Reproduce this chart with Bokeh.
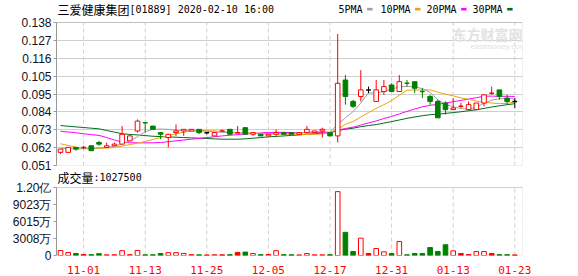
from bokeh.plotting import figure
from bokeh.layouts import column
from bokeh.models import ColumnDataSource, FixedTicker, Label, Range1d, Grid, BoxAnnotation
from bokeh.embed import file_html
from bokeh.resources import INLINE

# ---------------- data ----------------
dates = ["2019-10-29", "2019-10-30", "2019-10-31", "2019-11-01", "2019-11-04", "2019-11-05",
         "2019-11-06", "2019-11-07", "2019-11-08", "2019-11-11", "2019-11-12", "2019-11-13",
         "2019-11-14", "2019-11-15", "2019-11-18", "2019-11-19", "2019-11-20", "2019-11-21",
         "2019-11-22", "2019-11-25", "2019-11-26", "2019-11-27", "2019-11-28", "2019-11-29",
         "2019-12-02", "2019-12-03", "2019-12-04", "2019-12-05", "2019-12-06", "2019-12-09",
         "2019-12-10", "2019-12-11", "2019-12-12", "2019-12-13", "2019-12-16", "2019-12-17",
         "2019-12-18", "2019-12-19", "2019-12-20", "2019-12-23", "2019-12-24", "2019-12-27",
         "2019-12-30", "2019-12-31", "2020-01-02", "2020-01-03", "2020-01-06", "2020-01-07",
         "2020-01-08", "2020-01-09", "2020-01-10", "2020-01-13", "2020-01-14", "2020-01-15",
         "2020-01-16", "2020-01-17", "2020-01-20", "2020-01-21", "2020-01-22", "2020-01-23"]

opens = [0.059, 0.059, 0.062, 0.062, 0.063, 0.065, 0.062, 0.063, 0.064, 0.066,
         0.072, 0.077, 0.075, 0.071, 0.068, 0.071, 0.072, 0.072, 0.073, 0.071,
         0.069, 0.072, 0.073, 0.071, 0.074, 0.070, 0.070, 0.069, 0.070, 0.071,
         0.071, 0.070, 0.071, 0.071, 0.072, 0.071, 0.069, 0.103, 0.090, 0.093,
         0.097, 0.090, 0.096, 0.100, 0.096, 0.101, 0.102, 0.096, 0.093, 0.090,
         0.089, 0.085, 0.087, 0.085, 0.085, 0.089, 0.095, 0.097, 0.092, 0.090]
highs = [0.061, 0.062, 0.062, 0.063, 0.063, 0.066, 0.065, 0.065, 0.075, 0.070,
         0.079, 0.077, 0.075, 0.071, 0.070, 0.076, 0.073, 0.073, 0.073, 0.071,
         0.071, 0.073, 0.073, 0.075, 0.074, 0.071, 0.070, 0.070, 0.073, 0.071,
         0.071, 0.071, 0.075, 0.072, 0.074, 0.071, 0.131, 0.106, 0.091, 0.109,
         0.099, 0.103, 0.103, 0.101, 0.106, 0.103, 0.102, 0.098, 0.094, 0.091,
         0.090, 0.092, 0.089, 0.090, 0.089, 0.094, 0.099, 0.097, 0.094, 0.092]
lows = [0.058, 0.059, 0.060, 0.061, 0.060, 0.063, 0.062, 0.063, 0.064, 0.066,
        0.071, 0.071, 0.073, 0.067, 0.062, 0.069, 0.069, 0.072, 0.070, 0.070,
        0.069, 0.072, 0.070, 0.071, 0.070, 0.069, 0.069, 0.069, 0.069, 0.070,
        0.070, 0.070, 0.071, 0.071, 0.068, 0.069, 0.065, 0.088, 0.086, 0.090,
        0.095, 0.090, 0.094, 0.096, 0.096, 0.099, 0.095, 0.092, 0.088, 0.080,
        0.082, 0.085, 0.086, 0.085, 0.085, 0.087, 0.094, 0.091, 0.088, 0.086]
closes = [0.061, 0.062, 0.061, 0.062, 0.060, 0.064, 0.063, 0.064, 0.070, 0.069,
          0.078, 0.077, 0.073, 0.070, 0.070, 0.072, 0.073, 0.073, 0.071, 0.071,
          0.071, 0.072, 0.070, 0.071, 0.070, 0.071, 0.069, 0.070, 0.071, 0.070,
          0.070, 0.071, 0.073, 0.072, 0.073, 0.069, 0.101, 0.093, 0.087, 0.097,
          0.097, 0.097, 0.099, 0.096, 0.102, 0.101, 0.098, 0.096, 0.090, 0.080,
          0.085, 0.086, 0.087, 0.088, 0.089, 0.094, 0.095, 0.093, 0.090, 0.090]
volumes = [8800000, 5300000, 3500000, 1800000, 1500000, 3200000, 1200000, 1400000, 8500000, 1500000,
           9000000, 1200000, 1300000, 3500000, 5000000, 5000000, 3600000, 1500000, 1200000, 1000000,
           1300000, 1200000, 1500000, 5500000, 6000000, 3500000, 1500000, 1800000, 8500000, 1500000,
           1300000, 1000000, 3500000, 1200000, 1200000, 1500000, 113000000, 41000000, 7000000, 30700000,
           3500000, 12400000, 6500000, 3500000, 24800000, 1200000, 3500000, 3500000, 14000000, 7000000,
           19000000, 8300000, 3500000, 1800000, 7000000, 7000000, 3500000, 1500000, 1500000, 1027500]

ma5 = [0.0615, 0.0612, 0.0610, 0.0612, 0.0612, 0.0618, 0.0620, 0.0626, 0.0642, 0.0660,
       0.0685, 0.0715, 0.0730, 0.0732, 0.0730, 0.0725, 0.0722, 0.0720, 0.0720, 0.0718,
       0.0714, 0.0712, 0.0710, 0.0708, 0.0706, 0.0705, 0.0703, 0.0702, 0.0702, 0.0703,
       0.0705, 0.0710, 0.0712, 0.0714, 0.0716, 0.0712, 0.0760, 0.0800, 0.0838, 0.0890,
       0.0952, 0.0950, 0.0960, 0.0975, 0.0988, 0.0992, 0.0988, 0.0978, 0.0955, 0.0910,
       0.0882, 0.0868, 0.0856, 0.0854, 0.0865, 0.0888, 0.0908, 0.0916, 0.0918, 0.0914]
ma10 = [0.0642, 0.0632, 0.0622, 0.0614, 0.0612, 0.0614, 0.0616, 0.0620, 0.0628, 0.0637,
        0.0646, 0.0656, 0.0668, 0.0680, 0.0692, 0.0703, 0.0712, 0.0720, 0.0723, 0.0722,
        0.0720, 0.0718, 0.0712, 0.0709, 0.0708, 0.0707, 0.0705, 0.0703, 0.0703, 0.0702,
        0.0700, 0.0699, 0.0699, 0.0700, 0.0702, 0.0710, 0.0730, 0.0760, 0.0778, 0.0805,
        0.0832, 0.0858, 0.0880, 0.0905, 0.0938, 0.0968, 0.0970, 0.0970, 0.0970, 0.0956,
        0.0944, 0.0934, 0.0921, 0.0913, 0.0902, 0.0895, 0.0890, 0.0887, 0.0888, 0.0897]
ma20 = [0.0718, 0.0714, 0.0709, 0.0703, 0.0698, 0.0693, 0.0680, 0.0665, 0.0652, 0.0648,
        0.0648, 0.0648, 0.0648, 0.0650, 0.0655, 0.0660, 0.0665, 0.0670, 0.0675, 0.0680,
        0.0685, 0.0690, 0.0694, 0.0698, 0.0702, 0.0705, 0.0708, 0.0711, 0.0712, 0.0712,
        0.0710, 0.0709, 0.0709, 0.0710, 0.0711, 0.0711, 0.0725, 0.0735, 0.0743, 0.0756,
        0.0769, 0.0781, 0.0796, 0.0808, 0.0824, 0.0839, 0.0854, 0.0867, 0.0876, 0.0882,
        0.0890, 0.0898, 0.0906, 0.0914, 0.0922, 0.0932, 0.0932, 0.0931, 0.0931, 0.0930]
ma30 = [0.0753, 0.0749, 0.0745, 0.0741, 0.0737, 0.0733, 0.0723, 0.0713, 0.0703, 0.0699,
        0.0696, 0.0692, 0.0688, 0.0686, 0.0684, 0.0682, 0.0680, 0.0678, 0.0676, 0.0674,
        0.0672, 0.0670, 0.0670, 0.0670, 0.0672, 0.0676, 0.0680, 0.0684, 0.0687, 0.0690,
        0.0693, 0.0696, 0.0700, 0.0703, 0.0707, 0.0709, 0.0722, 0.0731, 0.0737, 0.0746,
        0.0753, 0.0759, 0.0768, 0.0777, 0.0787, 0.0797, 0.0805, 0.0813, 0.0819, 0.0822,
        0.0827, 0.0832, 0.0837, 0.0843, 0.0849, 0.0857, 0.0866, 0.0873, 0.0880, 0.0886]

price_tick_labels = ["0.051", "0.062", "0.073", "0.084", "0.095", "0.105", "0.116", "0.127", "0.138"]
price_lo, price_hi = 0.051, 0.138
vol_tick_labels = ["0", "3008万", "6015万", "9023万", "1.20亿"]
vol_max = 120300000
tick_dates = ["2019-11-01", "2019-11-13", "2019-11-25", "2019-12-05",
              "2019-12-17", "2019-12-31", "2020-01-13", "2020-01-23"]
stock_title = "三爱健康集团"
stock_info = "[01889] 2020-02-10 16:00"
ma_names = ["5PMA", "10PMA", "20PMA", "30PMA"]

# ---------------- styles / layout ----------------
RED, GREEN, BLACK = "#ff0000", "#008000", "#000000"
MA_COLORS = ["#a0a0a0", "#f0a30a", "#ff00ff", "#006b1e"]
GRID = "#cfcfcf"
FRAME = "#9a9a9a"
MONO = "DejaVu Sans Mono"
CJK = "Noto Sans CJK SC"
TICKF = "Liberation Sans"

W = 578
P_TOP_PAD, P_BOX, P_BOTTOM = 22, 143, 7      # price panel: header strip, chart box, bottom border
OVERLAP = 12                                  # volume panel starts this far above the price panel end
V_TOP_PAD, V_BOX, V_BOTTOM = 15 + OVERLAP, 68, 21

n = len(dates)
xs = list(range(n))
half = 0.3

wick = dict(x=[], lo=[], hi=[], c=[])
body = dict(l=[], r=[], t=[], b=[], fill=[], line=[])
flat = dict(x0=[], x1=[], y=[], c=[])
vol = dict(l=[], r=[], t=[], fill=[], line=[])

for i in range(n):
    o, h, lo, c = opens[i], highs[i], lows[i], closes[i]
    prev = closes[i - 1] if i > 0 else o
    if c > o:
        col, fill, vfill = RED, "white", "white"
    elif c < o:
        col, fill, vfill = GREEN, GREEN, GREEN
    else:
        col = RED if c > prev else (GREEN if c < prev else BLACK)
        fill = None
        vfill = GREEN if c < prev else RED
    vcol = GREEN if vfill == GREEN else RED
    wick["x"].append(i); wick["lo"].append(lo); wick["hi"].append(h); wick["c"].append(col)
    if fill is None:
        flat["x0"].append(i - half); flat["x1"].append(i + half); flat["y"].append(c); flat["c"].append(col)
    else:
        body["l"].append(i - half); body["r"].append(i + half)
        body["t"].append(max(o, c)); body["b"].append(min(o, c))
        body["fill"].append(fill); body["line"].append(col)
    vol["l"].append(i - half); vol["r"].append(i + half); vol["t"].append(volumes[i])
    vol["fill"].append(vfill); vol["line"].append(vcol)

tick_idx = [dates.index(d) for d in tick_dates]
k = len(price_tick_labels) - 1
price_pos = [round(price_lo + (price_hi - price_lo) * j / k, 7) for j in range(k + 1)]
kv = len(vol_tick_labels) - 1
vol_pos = [vol_max * j / kv for j in range(kv + 1)]

x_range = Range1d(-0.52, 60.0)
price_top = price_hi + (price_hi - price_lo) * P_TOP_PAD / P_BOX
vol_top = vol_max * (V_BOX + V_TOP_PAD) / V_BOX


def style_yaxis(ax, ticks, labels, bounds):
    ax.ticker = FixedTicker(ticks=ticks)
    ax.major_label_overrides = {pv: lab for pv, lab in zip(ticks, labels)}
    ax.bounds = bounds
    ax.axis_line_color = FRAME
    ax.major_tick_line_color = FRAME
    ax.major_tick_out = 3
    ax.major_tick_in = 0
    ax.minor_tick_line_color = None
    ax.major_label_standoff = 2
    ax.major_label_text_font = TICKF
    ax.major_label_text_font_size = "12px"
    ax.major_label_text_line_height = 1.0
    ax.major_label_text_color = "#111122"


def txt(fig, x, y, text, font, size, color="#000000", **kw):
    fig.add_layout(Label(x=x, y=y, x_units="screen", y_units="screen", text=text,
                         text_font=font, text_font_size=size, text_baseline="middle",
                         text_line_height=1.0, text_color=color, **kw))


# ---------------- price panel ----------------
p1 = figure(width=W, height=P_TOP_PAD + P_BOX + P_BOTTOM, x_range=x_range,
            y_range=Range1d(price_lo, price_top),
            output_backend="svg", toolbar_location=None, x_axis_location=None,
            min_border_left=56, min_border_right=56, min_border_top=0, min_border_bottom=P_BOTTOM,
            outline_line_color=None, background_fill_color="white", border_fill_color="white")
p1.xgrid.visible = False
p1.ygrid.visible = False
p1.add_layout(Grid(dimension=1, ticker=FixedTicker(ticks=price_pos), grid_line_color=GRID))
p1.segment(x0=tick_idx, y0=[price_lo] * len(tick_idx), x1=tick_idx, y1=[price_hi] * len(tick_idx),
           line_color=GRID, line_dash="4 3", line_width=1)
p1.add_layout(BoxAnnotation(bottom=price_lo, top=price_hi, fill_alpha=0, line_color=FRAME,
                            line_width=1, level="underlay"))

for m, colr in zip([ma30, ma20, ma10, ma5], MA_COLORS[::-1]):
    p1.line(xs, m, line_color=colr, line_width=1)

p1.segment(x0="x", y0="lo", x1="x", y1="hi", line_color="c", line_width=1,
           source=ColumnDataSource(wick))
p1.quad(left="l", right="r", top="t", bottom="b", fill_color="fill", line_color="line",
        line_width=1, source=ColumnDataSource(body))
p1.segment(x0="x0", y0="y", x1="x1", y1="y", line_color="c", line_width=1.5,
           source=ColumnDataSource(flat))

style_yaxis(p1.yaxis[0], price_pos, price_tick_labels, (price_lo, price_hi))

hy = P_BOX + 13   # header line (frame-relative, from the frame bottom)
txt(p1, 1, hy, stock_title, CJK, "12px")
txt(p1, 73, hy, stock_info, MONO, "10px")
leg_x = [282, 324, 370, 416]
for name, colr, lx in zip(ma_names, MA_COLORS, leg_x):
    txt(p1, lx, hy, name, MONO, "10px")
    txt(p1, lx + 6 * len(name) + 4, hy + 0.5, "▬", "DejaVu Sans", "7px", colr)
txt(p1, 396, 132, "东方财富网", CJK, "14px", "#e2e2e2", text_font_style="bold")
txt(p1, 414, 119, "eastmoney.com", "Liberation Sans", "8px", "#e2e2e2")

# ---------------- volume panel (transparent, overlapping the price panel's lower border) ----------------
p2 = figure(width=W, height=V_TOP_PAD + V_BOX + V_BOTTOM, x_range=x_range,
            y_range=Range1d(0, vol_top),
            output_backend="svg", toolbar_location=None,
            min_border_left=56, min_border_right=56, min_border_top=0, min_border_bottom=V_BOTTOM,
            outline_line_color=None, background_fill_color=None, border_fill_color=None,
            margin=(-OVERLAP, 0, 0, 0))
p2.xgrid.visible = False
p2.ygrid.visible = False
p2.add_layout(Grid(dimension=1, ticker=FixedTicker(ticks=vol_pos), grid_line_color=GRID))
p2.segment(x0=tick_idx, y0=[0] * len(tick_idx), x1=tick_idx, y1=[vol_max] * len(tick_idx),
           line_color=GRID, line_dash="4 3", line_width=1)
p2.add_layout(BoxAnnotation(bottom=0, top=vol_max, fill_color="white", fill_alpha=1,
                            line_color=FRAME, line_width=1, level="underlay"))
p2.quad(left="l", right="r", top="t", bottom=0, fill_color="fill", line_color="line",
        line_width=1, source=ColumnDataSource(vol))

style_yaxis(p2.yaxis[0], vol_pos, vol_tick_labels, (0, vol_max))

xa = p2.xaxis[0]
xa.ticker = FixedTicker(ticks=tick_idx)
xa.major_label_overrides = {ti: d[5:] for ti, d in zip(tick_idx, tick_dates)}
xa.axis_line_color = None
xa.major_tick_line_color = None
xa.minor_tick_line_color = None
xa.major_label_standoff = 4
xa.major_label_text_font = MONO
xa.major_label_text_font_size = "11px"
xa.major_label_text_color = RED

vy = V_BOX + 10
txt(p2, 1, vy, "成交量", CJK, "12px")
txt(p2, 37, vy, ":" + str(volumes[-1]), MONO, "10px")

layout = column(p1, p2, spacing=0)
open("out.html", "w").write(file_html(layout, INLINE))
